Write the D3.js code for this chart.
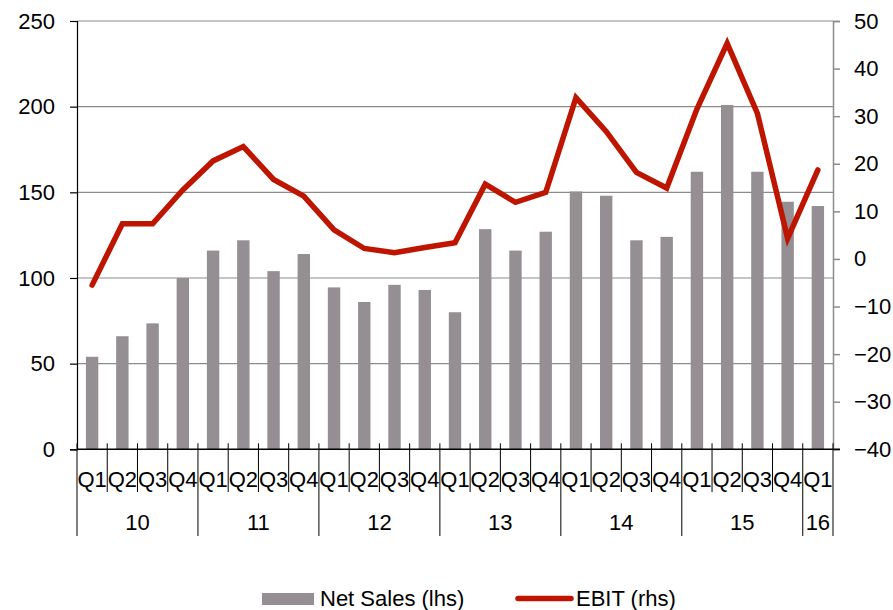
<!DOCTYPE html>
<html>
<head>
<meta charset="utf-8">
<script src="https://d3js.org/d3.v7.min.js"></script>
<style>
  body { margin: 0; background: #fff; }
  svg text { font-family: "Liberation Sans", Arial, sans-serif; fill: #000; }
</style>
</head>
<body>
<svg id="chart"></svg>
<script>
  var w = 893, h = 610;
  var plotLeft = 77, plotRight = 833, plotTop = 21, plotBottom = 449.3;

  // data
  var quarters = ["Q1","Q2","Q3","Q4","Q1","Q2","Q3","Q4","Q1","Q2","Q3","Q4",
                  "Q1","Q2","Q3","Q4","Q1","Q2","Q3","Q4","Q1","Q2","Q3","Q4","Q1"];
  var years = ["10","11","12","13","14","15","16"];
  var yearStart = [0, 4, 8, 12, 16, 20, 24];
  var netSales = [54, 66, 73.5, 100, 116, 122, 104, 114, 94.5, 86, 96, 93,
                  80, 128.5, 116, 127, 150.5, 148, 122, 124, 162, 201, 162, 144.5, 142];
  var ebit = [-5.5, 7.4, 7.4, 14.5, 20.6, 23.6, 16.7, 13.2, 6.1, 2.2, 1.3, 2.4,
              3.4, 15.7, 11.9, 14.0, 33.9, 26.8, 18.2, 14.9, 31.5, 45.3, 30.6, 4.3, 18.7];
  var leftTicks = [0, 50, 100, 150, 200, 250];
  var rightTicks = [-40, -30, -20, -10, 0, 10, 20, 30, 40, 50];

  var idx = d3.range(quarters.length);
  var svg = d3.select("#chart").attr("width", w).attr("height", h);

  var x = d3.scaleBand().domain(idx).range([plotLeft, plotRight]).paddingInner(0.59).paddingOuter(0.295);
  var xb = d3.scaleLinear().domain([0, quarters.length]).range([plotLeft, plotRight]);
  var yL = d3.scaleLinear().domain([0, 250]).range([plotBottom, plotTop]);
  var yR = d3.scaleLinear().domain([-40, 50]).range([plotBottom, plotTop]);

  // gridlines
  svg.append("g").selectAll("line").data(leftTicks.filter(function(d) { return d > 0; }))
    .join("line")
    .attr("x1", plotLeft).attr("x2", plotRight)
    .attr("y1", function(d) { return yL(d); }).attr("y2", function(d) { return yL(d); })
    .attr("stroke", "#8c8c8c").attr("stroke-width", 1.2);

  // bars
  svg.append("g").selectAll("rect").data(idx).join("rect")
    .attr("x", function(i) { return x(i); })
    .attr("width", x.bandwidth())
    .attr("y", function(i) { return yL(netSales[i]); })
    .attr("height", function(i) { return plotBottom - yL(netSales[i]); })
    .attr("fill", "#958f93");

  // left axis
  var gl = svg.append("g").attr("transform", "translate(" + plotLeft + ",0)")
    .call(d3.axisLeft(yL).tickValues(leftTicks).tickSize(7).tickPadding(15));
  gl.select(".domain").attr("stroke", "#000").attr("stroke-width", 1.2);
  gl.selectAll(".tick line").attr("stroke", "#000").attr("stroke-width", 1.2);
  gl.selectAll("text").attr("font-size", "22px").attr("fill", "#000");

  // right axis
  var gr = svg.append("g").attr("transform", "translate(" + plotRight + ",0)")
    .call(d3.axisRight(yR).tickValues(rightTicks).tickSize(7).tickPadding(14));
  gr.select(".domain").attr("stroke", "#8c8c8c").attr("stroke-width", 1.5);
  gr.selectAll(".tick line").attr("stroke", "#8c8c8c").attr("stroke-width", 1.5);
  gr.selectAll("text").attr("font-size", "22px").attr("fill", "#000");

  // bottom axis line
  svg.append("line").attr("x1", plotLeft).attr("x2", plotRight + 7)
    .attr("y1", plotBottom).attr("y2", plotBottom)
    .attr("stroke", "#000").attr("stroke-width", 1.5);

  // quarter separators and year separators
  var gx = svg.append("g");
  d3.range(quarters.length + 1).forEach(function(k) {
    var isYear = yearStart.indexOf(k) >= 0 || k === quarters.length;
    gx.append("line")
      .attr("x1", xb(k)).attr("x2", xb(k))
      .attr("y1", plotBottom - 6).attr("y2", isYear ? 536 : 492)
      .attr("stroke", "#000").attr("stroke-width", 1);
  });
  gx.selectAll("text.q").data(idx).join("text").attr("class", "q")
    .attr("x", function(i) { return xb(i + 0.5); })
    .attr("y", 487)
    .attr("text-anchor", "middle").attr("font-size", "22px")
    .text(function(i) { return quarters[i]; });
  gx.selectAll("text.yr").data(years).join("text").attr("class", "yr")
    .attr("x", function(d, j) {
      var s = yearStart[j], e = j + 1 < yearStart.length ? yearStart[j + 1] : quarters.length;
      return xb((s + e) / 2);
    })
    .attr("y", 530)
    .attr("text-anchor", "middle").attr("font-size", "22px")
    .text(function(d) { return d; });

  // EBIT line
  var line = d3.line()
    .x(function(d, i) { return x(i) + x.bandwidth() / 2; })
    .y(function(d) { return yR(d); });
  svg.append("path").datum(ebit)
    .attr("d", line)
    .attr("fill", "none").attr("stroke", "#bd1500")
    .attr("stroke-width", 5.5).attr("stroke-linejoin", "miter").attr("stroke-linecap", "round");

  // legend
  var lg = svg.append("g");
  lg.append("rect").attr("x", 262).attr("y", 593).attr("width", 52).attr("height", 12).attr("fill", "#958f93");
  lg.append("text").attr("x", 320).attr("y", 606).attr("font-size", "22px").text("Net Sales (lhs)");
  lg.append("line").attr("x1", 518).attr("x2", 571).attr("y1", 598.5).attr("y2", 598.5)
    .attr("stroke", "#bd1500").attr("stroke-width", 5.5).attr("stroke-linecap", "round");
  lg.append("text").attr("x", 576).attr("y", 606).attr("font-size", "22px").text("EBIT (rhs)");
</script>
</body>
</html>
